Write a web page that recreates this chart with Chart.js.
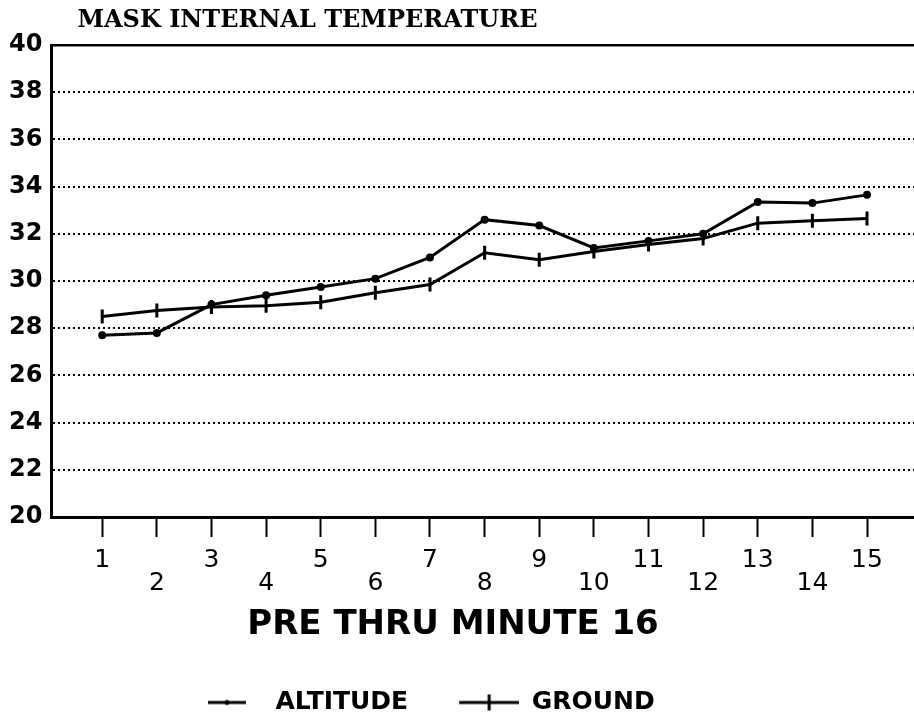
<!DOCTYPE html>
<html>
  <head>
    <meta charset="UTF-8">
    <style>
      body { margin: 0; background: #fff; overflow: hidden; }
    </style>
  </head>
  <body>
    <canvas id="mask-temp" width="914" height="726"></canvas>

    <script src="https://cdn.jsdelivr.net/npm/chart.js@4.4.0/dist/chart.umd.min.js"></script>
    <script type="text/javascript">

      const minutes  = [1, 2, 3, 4, 5, 6, 7, 8, 9, 10, 11, 12, 13, 14, 15];
      const altitude = [27.7, 27.8, 29.0, 29.4, 29.75, 30.1, 31.0, 32.6, 32.35, 31.4, 31.7, 32.0, 33.35, 33.3, 33.65];
      const ground   = [28.5, 28.75, 28.9, 28.95, 29.1, 29.5, 29.85, 31.2, 30.9, 31.25, 31.55, 31.8, 32.45, 32.55, 32.65];
      const yTicks   = [20, 22, 24, 26, 28, 30, 32, 34, 36, 38, 40];

      const HEADING = 'MASK INTERNAL TEMPERATURE';
      const X_TITLE = 'PRE THRU MINUTE 16';
      const LEGEND_LEFT = 152;
      const TITLE_SHIFT = 4;
      const KEY_W = 63;

      function points(values) {
        return minutes.map((m, i) => ({x: m, y: values[i]}));
      }

      // little key symbols for the legend: line with a dot, line with a tick
      function keySymbol(kind) {
        const c = document.createElement('canvas');
        c.width = KEY_W;
        c.height = 20;
        const g = c.getContext('2d');
        g.strokeStyle = '#000';
        g.fillStyle = '#000';
        g.lineWidth = 3;
        g.beginPath();
        if (kind === 'dot') {
          g.moveTo(8, 10); g.lineTo(46, 10); g.stroke();
          g.beginPath(); g.arc(27, 10, 2.5, 0, Math.PI * 2); g.fill();
        } else {
          g.moveTo(3, 10); g.lineTo(63, 10); g.stroke();
          g.beginPath(); g.moveTo(33, 2); g.lineTo(33, 18); g.stroke();
        }
        return c;
      }
      const keys = [keySymbol('dot'), keySymbol('tick')];

      const headingPlugin = {
        id: 'heading',
        afterLayout(chart) {
          chart.legend.left = LEGEND_LEFT;
          chart.titleBlock.left -= 2 * TITLE_SHIFT;
        },
        afterDraw(chart) {
          const ctx = chart.ctx;
          ctx.save();
          ctx.font = 'bold 24px "DejaVu Serif"';
          ctx.fillStyle = '#000';
          ctx.textBaseline = 'middle';
          ctx.fillText(HEADING, chart.chartArea.left + 26, 21);
          ctx.restore();
        }
      };

      new Chart(document.getElementById('mask-temp'), {
        type: 'line',
        data: {
          datasets: [
            {
              label: 'ALTITUDE',
              data: points(altitude),
              borderColor: '#000',
              backgroundColor: '#000',
              borderWidth: 3,
              pointStyle: 'circle',
              pointRadius: 2.5,
              pointBackgroundColor: '#000',
              tension: 0
            },
            {
              label: 'GROUND',
              data: points(ground),
              borderColor: '#000',
              backgroundColor: '#000',
              borderWidth: 3,
              pointStyle: 'line',
              pointRotation: 90,
              pointRadius: 7,
              pointBorderWidth: 3,
              tension: 0
            }
          ]
        },
        options: {
          responsive: false,
          animation: false,
          devicePixelRatio: 1,
          layout: { autoPadding: false, padding: { top: 45, left: 0, right: 0, bottom: 1 } },
          scales: {
            x: {
              type: 'linear',
              position: 'bottom',
              min: 0.07,
              max: 15.86,
              afterBuildTicks: (scale) => { scale.ticks = minutes.map(v => ({value: v})); },
              grid: {
                drawOnChartArea: false,
                drawTicks: true,
                tickLength: 20,
                tickWidth: 2,
                tickColor: '#000'
              },
              border: { color: '#000', width: 3 },
              ticks: {
                color: '#000',
                padding: 12,
                maxRotation: 0,
                autoSkip: false,
                font: { family: 'DejaVu Sans', size: 25, lineHeight: 0.92 },
                // even minutes sit one line lower
                callback: (v) => (v % 2 === 0 ? ['', String(v)] : String(v))
              }
            },
            xTop: {
              type: 'linear',
              axis: 'x',
              position: 'top',
              afterBuildTicks: (scale) => { scale.ticks = []; },
              grid: { display: false, drawTicks: false },
              ticks: { display: false },
              border: { color: '#000', width: 2.5 }
            },
            y: {
              min: 20,
              max: 40,
              afterBuildTicks: (scale) => { scale.ticks = yTicks.map(v => ({value: v})); },
              grid: { color: '#000', lineWidth: 2, drawTicks: false },
              border: { color: '#000', width: 3, dash: [2, 3] },
              ticks: {
                color: '#000',
                padding: 9,
                font: { family: 'DejaVu Sans', size: 24, weight: 'bold' }
              }
            }
          },
          plugins: {
            title: {
              display: true,
              text: X_TITLE,
              position: 'bottom',
              weight: 500,
              color: '#000',
              font: { family: 'DejaVu Sans', size: 34, weight: 'bold', lineHeight: 1.0 },
              padding: { top: 1, bottom: 0 }
            },
            legend: {
              position: 'bottom',
              align: 'start',
              labels: {
                color: '#000',
                usePointStyle: true,
                pointStyleWidth: KEY_W,
                padding: 48,
                font: { family: 'DejaVu Sans', size: 25, weight: 'bold' },
                generateLabels: (chart) =>
                  Chart.defaults.plugins.legend.labels.generateLabels(chart).map((item, i) => {
                    item.pointStyle = keys[i];
                    item.rotation = 0;
                    return item;
                  })
              }
            },
            tooltip: { enabled: false }
          }
        },
        plugins: [headingPlugin]
      });

    </script>
  </body>
</html>
